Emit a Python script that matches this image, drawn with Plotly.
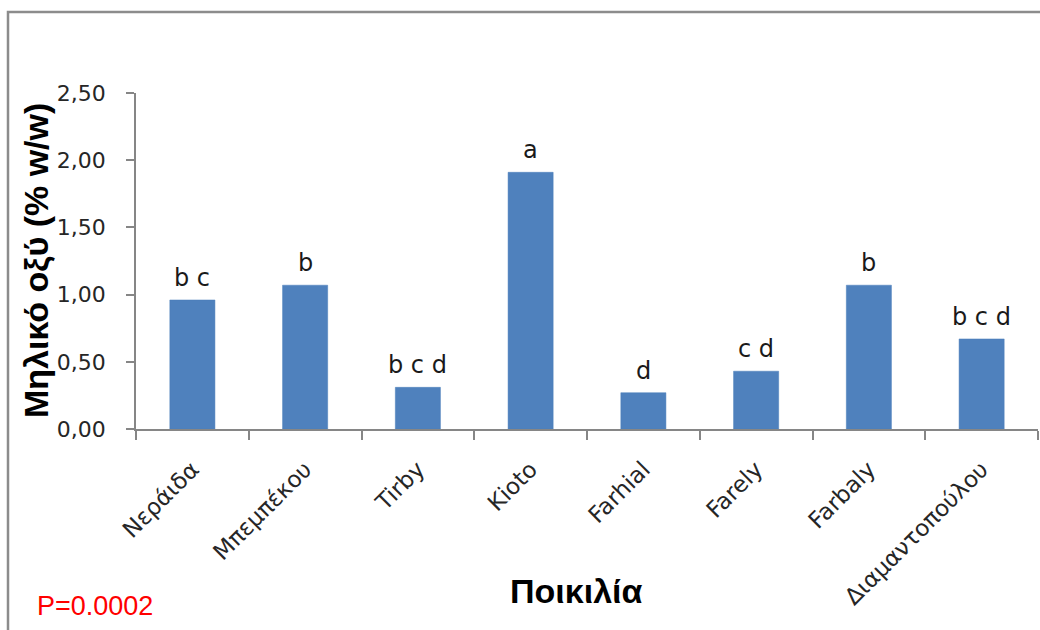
import plotly.graph_objects as go

# Malic acid content per variety, with significance groups
varieties = ["Νεράιδα", "Μπεμπέκου", "Tirby", "Kioto", "Farhial", "Farely", "Farbaly", "Διαμαντοπούλου"]
malic_acid = [0.96, 1.07, 0.31, 1.91, 0.27, 0.43, 1.07, 0.67]
groups = ["b c", "b", "b c d", "a", "d", "c d", "b", "b c d"]
y_ticks = [0, 0.5, 1.0, 1.5, 2.0, 2.5]
p_value_text = "P=0.0002"

W, H = 1040, 630
ML, MR, MT, MB = 136, 2, 93, 201
PW, PH = W - ML - MR, H - MT - MB


def px_x(x):
    return (x - ML) / PW


def px_y(y):
    return (H - MB - y) / PH


axis_grey = "#868686"
text_dark = "#262626"
body_font = "DejaVu Sans"
title_font = "Liberation Sans"

fig = go.Figure()
fig.add_trace(go.Bar(
    x=varieties,
    y=malic_acid,
    width=0.4,
    marker=dict(color="#4F81BD", line=dict(color="#4A7EBB", width=0.5)),
    hoverinfo="x+y",
))

annotations = []
for v, val, g in zip(varieties, malic_acid, groups):
    annotations.append(dict(
        x=v, y=val, xref="x", yref="y", text=g, showarrow=False,
        yanchor="bottom", yshift=6,
        font=dict(family=body_font, size=24, color="#1a1a1a"),
    ))

annotations += [
    dict(text="<b>Μηλικό οξύ (% w/w)</b>", xref="paper", yref="paper",
         x=px_x(36), y=0.5, textangle=-90, showarrow=False,
         xanchor="center", yanchor="middle",
         font=dict(family=title_font, size=34, color="#000000")),
    dict(text="<b>Ποικιλία</b>", xref="paper", yref="paper",
         x=px_x(576), y=px_y(591), showarrow=False,
         xanchor="center", yanchor="middle",
         font=dict(family=title_font, size=34, color="#000000")),
    dict(text=p_value_text, xref="paper", yref="paper",
         x=px_x(35), y=px_y(606), showarrow=False,
         xanchor="left", yanchor="middle",
         font=dict(family=title_font, size=27, color="#FF0000")),
]

fig.update_layout(
    width=W, height=H,
    margin=dict(l=ML, r=MR, t=MT, b=MB, autoexpand=False),
    paper_bgcolor="white", plot_bgcolor="white",
    separators=",.",
    showlegend=False,
    bargap=0.6,
    annotations=annotations,
    shapes=[dict(type="rect", xref="paper", yref="paper",
                 x0=px_x(8), x1=px_x(1200), y0=px_y(800), y1=px_y(12),
                 line=dict(color="#8c8c8c", width=2.5), layer="above")],
    xaxis=dict(
        showline=True, linecolor=axis_grey, linewidth=1.5,
        ticks="outside", tickson="boundaries", ticklen=9,
        tickcolor=axis_grey, tickwidth=1.5,
        tickangle=-45, ticklabelstandoff=16,
        tickfont=dict(family=body_font, size=23, color=text_dark),
        showgrid=False, fixedrange=True,
    ),
    yaxis=dict(
        range=[0, 2.5], tickvals=y_ticks, tickformat=".2f",
        showline=True, linecolor=axis_grey, linewidth=1.5,
        ticks="outside", ticklen=8, tickcolor=axis_grey, tickwidth=1.5,
        ticklabelstandoff=16,
        tickfont=dict(family=body_font, size=22, color=text_dark),
        showgrid=False, zeroline=False, fixedrange=True,
    ),
)

fig.write_html("out.html")
